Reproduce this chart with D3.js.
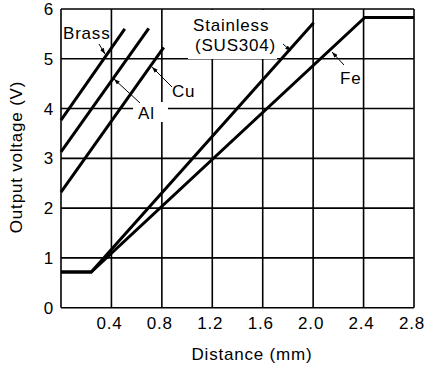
<!DOCTYPE html>
<html><head><meta charset="utf-8">
<script src="https://cdn.jsdelivr.net/npm/d3@7"></script>
<style>
body{margin:0;background:#fff;}
text{font-family:"Liberation Sans",Arial,sans-serif;font-size:17px;letter-spacing:0.8px;fill:#000;}
</style></head>
<body><svg id="c" width="428" height="367"></svg>
<script>
const xTicks = [0.4, 0.8, 1.2, 1.6, 2.0, 2.4, 2.8];
const xTickLabels = ["0.4", "0.8", "1.2", "1.6", "2.0", "2.4", "2.8"];
const yTicks = [0, 1, 2, 3, 4, 5, 6];
const brass = [[0, 3.77], [0.506, 5.6]];
const al = [[0, 3.13], [0.696, 5.61]];
const cu = [[0, 2.32], [0.815, 5.23]];
const stainless = [[0, 0.717], [0.24, 0.717], [2.004, 5.725]];
const fe = [[0, 0.717], [0.24, 0.717], [2.41, 5.83], [2.8, 5.83]];
const seriesList = [brass, al, cu, stainless, fe];

const svg = d3.select("#c");
const L = 61, T = 9, R = 414, B = 307.7;
const x = d3.scaleLinear().domain([0, 2.8]).range([L, R]);
const y = d3.scaleLinear().domain([0, 6]).range([B, T]);

// grid
const g = svg.append("g");
g.selectAll(".vg").data(xTicks).join("line")
  .attr("x1", d => x(d)).attr("x2", d => x(d)).attr("y1", T).attr("y2", B)
  .attr("stroke", "#000").attr("stroke-width", 1.6);
g.selectAll(".hg").data(yTicks.slice(1)).join("line")
  .attr("x1", L).attr("x2", R).attr("y1", d => y(d)).attr("y2", d => y(d))
  .attr("stroke", "#000").attr("stroke-width", 1.6);
// frame left & bottom
svg.append("line").attr("x1", L).attr("x2", L).attr("y1", T).attr("y2", B).attr("stroke", "#000").attr("stroke-width", 1.6);
svg.append("line").attr("x1", L).attr("x2", R).attr("y1", B).attr("y2", B).attr("stroke", "#000").attr("stroke-width", 1.6);

// white label boxes
svg.append("rect").attr("x", 188).attr("y", 10).attr("width", 89).attr("height", 49).attr("fill", "#fff");
svg.append("rect").attr("x", 133).attr("y", 102).attr("width", 35).attr("height", 20).attr("fill", "#fff");

// data lines
const line = d3.line().x(d => x(d[0])).y(d => y(d[1]));
svg.selectAll(".s").data(seriesList).join("path")
  .attr("d", line).attr("fill", "none").attr("stroke", "#000")
  .attr("stroke-width", 3).attr("stroke-linejoin", "miter");

// tick labels
svg.selectAll(".xl").data(xTicks).join("text")
  .attr("x", (d) => x(d) - 2).attr("y", 329).attr("text-anchor", "middle")
  .text((d, i) => xTickLabels[i]);
svg.selectAll(".yl").data(yTicks).join("text")
  .attr("x", 54).attr("y", d => y(d) + 6).attr("text-anchor", "end")
  .text(d => d);

// axis titles
svg.append("text").attr("x", 252).attr("y", 360).attr("text-anchor", "middle").text("Distance (mm)");
svg.append("text").attr("transform", "translate(22,157) rotate(-90)").attr("text-anchor", "middle").text("Output voltage (V)");

// arrow marker
const defs = svg.append("defs");
defs.append("marker").attr("id", "ah").attr("viewBox", "0 0 10 10").attr("refX", 10).attr("refY", 5)
  .attr("markerWidth", 6).attr("markerHeight", 6).attr("markerUnits", "userSpaceOnUse").attr("orient", "auto")
  .append("path").attr("d", "M0,1.5L10,5L0,8.5Z").attr("fill", "#000");

// labels
const labels = [
  {t: "Brass", x: 63, y: 39},
  {t: "Stainless", x: 193, y: 31},
  {t: "(SUS304)", x: 195, y: 51},
  {t: "Cu", x: 172, y: 97},
  {t: "Al", x: 138, y: 119},
  {t: "Fe", x: 340, y: 84}
];
svg.selectAll(".lb").data(labels).join("text").attr("x", d => d.x).attr("y", d => d.y).text(d => d.t);
const arrows = [
  [99, 44, 105, 54],
  [283, 44, 291, 51],
  [172, 87, 152, 67],
  [140, 103, 114, 79],
  [344, 65, 332, 52]
];
svg.selectAll(".ar").data(arrows).join("line")
  .attr("x1", d => d[0]).attr("y1", d => d[1]).attr("x2", d => d[2]).attr("y2", d => d[3])
  .attr("stroke", "#000").attr("stroke-width", 1).attr("marker-end", "url(#ah)");
</script></body></html>
